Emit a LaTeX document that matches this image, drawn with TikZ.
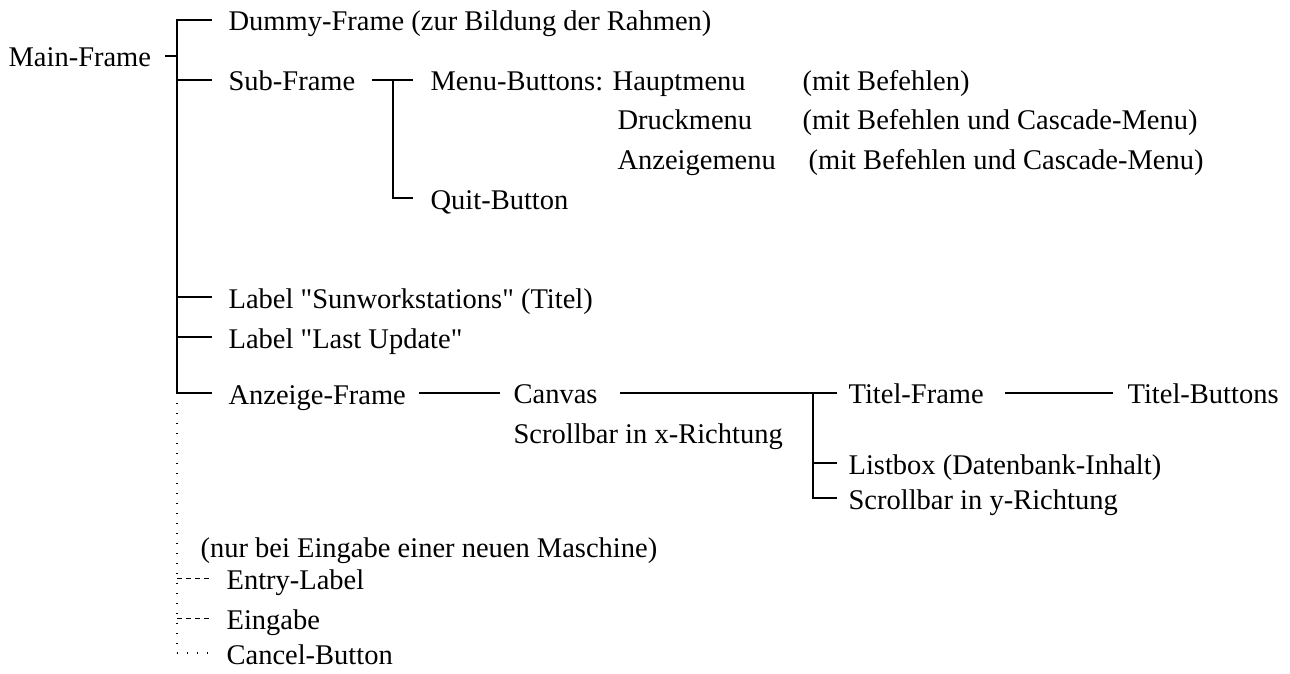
\documentclass[tikz,border=0pt]{standalone}
\usepackage{fontspec}
\setmainfont{Liberation Serif}
\begin{document}
\begin{tikzpicture}[x=1pt,y=1pt,line width=1.2pt,
  txt/.style={anchor=base west,inner sep=0pt,font=\fontsize{28.5}{34}\selectfont},
  dotline/.style={line width=1.4pt,dash pattern=on 1.4pt off 8.6pt},
  dashline/.style={line width=0.9pt,dash pattern=on 5pt off 4pt}]
\useasboundingbox (0,0) rectangle (1290,-674);
% text nodes
\node[txt] (main)   at (8,-67)    {Main-Frame};
\node[txt] (dummy)  at (228,-31)  {Dummy-Frame (zur Bildung der Rahmen)};
\node[txt] (sub)    at (228,-91)  {Sub-Frame};
\node[txt] (menu)   at (430,-91)  {Menu-Buttons: Hauptmenu};
\node[txt] (menup)  at (802,-91)  {(mit Befehlen)};
\node[txt] (druck)  at (617,-129) {Druckmenu};
\node[txt] (druckp) at (802,-129) {(mit Befehlen und Cascade-Menu)};
\node[txt] (anzm)   at (617,-169) {Anzeigemenu};
\node[txt] (anzmp)  at (808,-169) {(mit Befehlen und Cascade-Menu)};
\node[txt] (quit)   at (430,-209) {Quit-Button};
\node[txt] (sun)    at (228,-308) {Label \textquotedbl Sunworkstations\textquotedbl{} (Titel)};
\node[txt] (last)   at (228,-348) {Label \textquotedbl Last Update\textquotedbl};
\node[txt] (anz)    at (228,-404) {Anzeige-Frame};
\node[txt] (canvas) at (513,-403) {Canvas};
\node[txt] (scrx)   at (513,-443) {Scrollbar in x-Richtung};
\node[txt] (titf)   at (848,-403) {Titel-Frame};
\node[txt] (titb)   at (1127,-403){Titel-Buttons};
\node[txt] (list)   at (848,-474) {Listbox (Datenbank-Inhalt)};
\node[txt] (scry)   at (848,-509) {Scrollbar in y-Richtung};
\node[txt] (nur)    at (200,-557) {(nur bei Eingabe einer neuen Maschine)};
\node[txt] (entry)  at (226,-589) {Entry-Label};
\node[txt] (eing)   at (226,-629) {Eingabe};
\node[txt] (cancel) at (226,-664) {Cancel-Button};
% vertical rails
\coordinate (mv) at (177,0);
\coordinate (sv) at (393,0);
\coordinate (cv) at (813,0);
% line end points
\coordinate (mainR)  at ([shift={(13,11)}]main.base east);
\coordinate (dummyL) at ([shift={(-16,11)}]dummy.base west);
\coordinate (subL)   at ([shift={(-16,11)}]sub.base west);
\coordinate (subR)   at ([shift={(16,11)}]sub.base east);
\coordinate (menuL)  at ([shift={(-17,11)}]menu.base west);
\coordinate (quitL)  at ([shift={(-17,11)}]quit.base west);
\coordinate (sunL)   at ([shift={(-16,11)}]sun.base west);
\coordinate (lastL)  at ([shift={(-16,11)}]last.base west);
\coordinate (anzL)   at ([shift={(-16,11)}]anz.base west);
\coordinate (anzR)   at ([shift={(13,11)}]anz.base east);
\coordinate (canvasL)at ([shift={(-13,10)}]canvas.base west);
\coordinate (canvasR)at ([shift={(22,10)}]canvas.base east);
\coordinate (titfL)  at ([shift={(-11,10)}]titf.base west);
\coordinate (titfR)  at ([shift={(21,10)}]titf.base east);
\coordinate (titbL)  at ([shift={(-14,10)}]titb.base west);
\coordinate (listL)  at ([shift={(-11,11)}]list.base west);
\coordinate (scryL)  at ([shift={(-11,11)}]scry.base west);
\coordinate (entryL) at ([shift={(-14,11)}]entry.base west);
\coordinate (eingL)  at ([shift={(-14,11)}]eing.base west);
\coordinate (cancelL)at ([shift={(-16,11)}]cancel.base west);
% Main-Frame tree
\draw ([xshift=-12pt]mv |- mainR) -- (mv |- mainR);
\draw (dummyL) -| (mv |- anzL) -- (anzL);
\draw (mv |- subL) -- (subL);
\draw (mv |- sunL) -- (sunL);
\draw (mv |- lastL) -- (lastL);
% Sub-Frame
\draw (subR) -- (menuL);
\draw (sv |- menuL) |- (quitL);
% Anzeige-Frame
\draw (anzR) -- (canvasL);
\draw (canvasR) -- (titfL);
\draw (cv |- titfL) |- (scryL);
\draw (cv |- listL) -- (listL);
\draw (titfR) -- (titbL);
% optional entries
\draw[dotline] (mv |- anzL) -- (mv |- cancelL);
\draw[dashline] (mv |- entryL) -- (entryL);
\draw[dashline] (mv |- eingL) -- (eingL);
\draw[dotline] (mv |- cancelL) -- (cancelL);
\end{tikzpicture}
\end{document}
